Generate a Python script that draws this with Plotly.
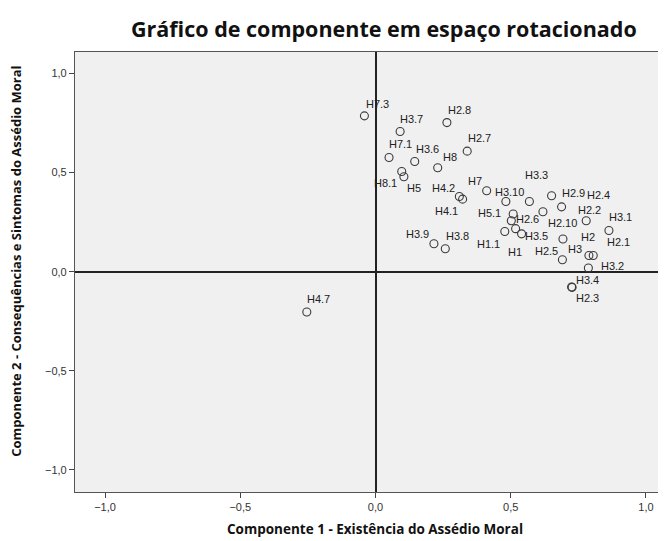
import plotly.graph_objects as go

# ---- data (rotated component loadings) ----
labels = ["H7.3", "H3.7", "H2.8", "H2.7", "H7.1", "H3.6", "H8", "H8.1", "H5",
          "H7", "H4.2", "H4.1", "H3.10", "H3.3", "H2.9", "H2.4", "H2.10", "H2.6",
          "H5.1", "H2.2", "H3.1", "H1.1", "H1", "H3.5", "H2", "H3", "H2.1",
          "H2.5", "H3.2", "H3.4", "H2.3", "H3.9", "H3.8", "H4.7"]
comp1 = [-0.041, 0.091, 0.264, 0.339, 0.050, 0.145, 0.230, 0.097, 0.105,
         0.411, 0.310, 0.322, 0.482, 0.569, 0.651, 0.688, 0.619, 0.509,
         0.502, 0.779, 0.863, 0.478, 0.518, 0.540, 0.693, 0.789, 0.805,
         0.691, 0.787, 0.725, 0.727, 0.216, 0.258, -0.254]
comp2 = [0.786, 0.707, 0.752, 0.608, 0.576, 0.556, 0.524, 0.505, 0.479,
         0.408, 0.379, 0.366, 0.354, 0.354, 0.383, 0.327, 0.302, 0.291,
         0.257, 0.257, 0.208, 0.203, 0.217, 0.191, 0.165, 0.082, 0.082,
         0.060, 0.019, -0.077, -0.079, 0.141, 0.116, -0.203]
tick_vals = [-1.0, -0.5, 0.0, 0.5, 1.0]

title_text = "Gráfico de componente em espaço rotacionado"
x_title = "Componente 1 - Existência do Assédio Moral"
y_title = "Componente 2 - Consequências e Sintomas do Assédio Moral"

# ---- label placement (pixel offsets from marker, style only) ----
label_offsets = [(13.4, -12), (11.7, -12.7), (12.7, -12.7), (12.4, -13), (11.5, -13.4),
                 (13, -12.4), (12, -11.3), (-15.9, 11.6), (9.8, 11.3), (-11.4, -10.3),
                 (-15.6, -9), (-16.5, 11.7), (4, -10), (6.7, -26.7), (22, -2.7),
                 (37.2, -12), (20, 10.7), (14.2, 4.7), (-21.8, -7.7), (3.7, -11),
                 (11.8, -13), (-16, 12.3), (-0.4, 23.7), (15.3, 2), (25.3, -2),
                 (-14.3, -6.4), (25.4, -13), (-15.6, -9), (24.5, -1.6), (16.3, -6.6),
                 (15.8, 11), (-16.3, -9.7), (12.4, -13), (12.1, -13)]

# page has an 8px body margin; figure coords = page coords - 8
OFF = 8
W, H = 666 - OFF, 541 - OFF
ML, MT = 75 - OFF, 52 - OFF
MB = H - (492.5 - OFF)

fig = go.Figure()
fig.add_trace(go.Scatter(
    x=comp1, y=comp2, mode="markers", text=labels,
    marker=dict(symbol="circle-open", size=8, color="#3a3a3a", line=dict(width=1.1, color="#3a3a3a")),
    hoverinfo="text", showlegend=False,
))

annotations = []
for lab, xv, yv, (dx, dy) in zip(labels, comp1, comp2, label_offsets):
    annotations.append(dict(
        x=xv, y=yv, xref="x", yref="y", text=lab, showarrow=False,
        xshift=dx, yshift=-dy, xanchor="center", yanchor="middle",
        font=dict(family="Liberation Sans, Arial", size=11, color="#222222"),
    ))

plot_w = W - ML
plot_h = H - MT - MB


def px(page_x):
    return (page_x - OFF - ML) / plot_w


def py(page_y):
    return (H - MB - (page_y - OFF)) / plot_h


annotations.append(dict(
    text="<b>" + title_text + "</b>",
    xref="paper", yref="paper", x=px(384), y=py(28),
    xanchor="center", yanchor="middle", showarrow=False,
    font=dict(family="Open Sans", size=21.5, color="#111111"),
))
annotations.append(dict(
    text="<b>" + x_title + "</b>",
    xref="paper", yref="paper", x=px(375.5), y=py(530),
    xanchor="center", yanchor="middle", showarrow=False,
    font=dict(family="Open Sans", size=13.5, color="#111111"),
))
annotations.append(dict(
    text="<b>" + y_title + "</b>",
    xref="paper", yref="paper", x=px(16), y=py(262),
    xanchor="center", yanchor="middle", showarrow=False, textangle=-90,
    font=dict(family="Open Sans", size=13, color="#111111"),
))

fig.update_layout(
    width=W, height=H,
    margin=dict(l=ML, r=0, t=MT, b=MB, autoexpand=False),
    paper_bgcolor="white", plot_bgcolor="#f0f0f0",
    separators=",.",
    annotations=annotations,
    font=dict(family="Liberation Sans, Arial", size=11, color="#333333"),
    xaxis=dict(
        range=[-1.111, 1.074], tickvals=tick_vals, tickformat=".1f", automargin=False,
        showgrid=False, zeroline=True, zerolinecolor="#222222", zerolinewidth=1.6,
        showline=True, linecolor="#555555", linewidth=1.2, mirror=True,
        ticks="outside", ticklen=5, tickcolor="#444444",
        fixedrange=True,
    ),
    yaxis=dict(
        range=[-1.111, 1.108], tickvals=tick_vals, tickformat=".1f", automargin=False,
        showgrid=False, zeroline=True, zerolinecolor="#222222", zerolinewidth=1.6,
        showline=True, linecolor="#555555", linewidth=1.2, mirror=False,
        ticks="outside", ticklen=5, tickcolor="#444444",
        fixedrange=True,
    ),
)

fig.write_html("out.html")
